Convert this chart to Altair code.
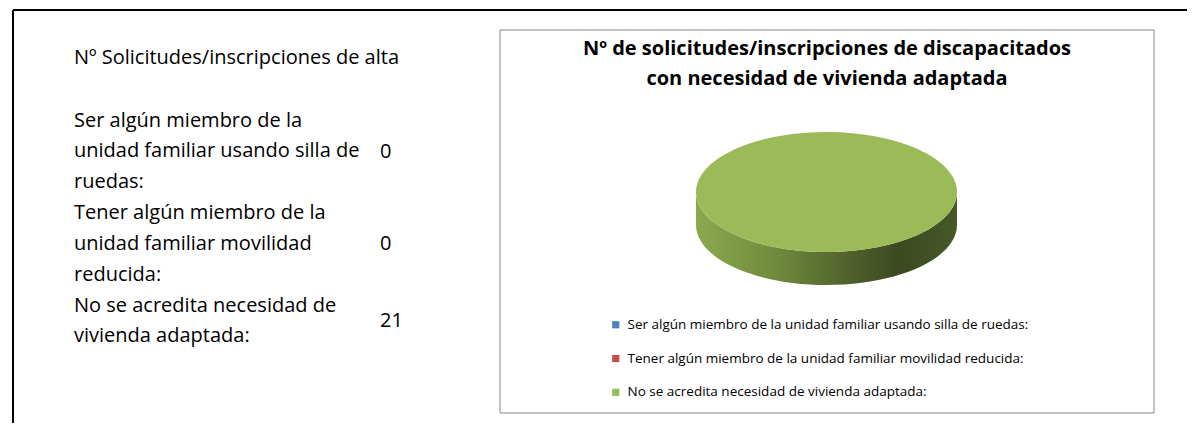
import math
import altair as alt

# ---------------- data ----------------
categories = [
    "Ser algún miembro de la unidad familiar usando silla de ruedas:",
    "Tener algún miembro de la unidad familiar movilidad reducida:",
    "No se acredita necesidad de vivienda adaptada:",
]
values = [0, 0, 21]
colors = ["#4F81BD", "#C0504D", "#9BBB59"]
table_header = "Nº Solicitudes/inscripciones de alta"
table_labels = [
    ["Ser algún miembro de la", "unidad familiar usando silla de", "ruedas:"],
    ["Tener algún miembro de la", "unidad familiar movilidad", "reducida:"],
    ["No se acredita necesidad de", "vivienda adaptada:"],
]
chart_title = [
    "Nº de solicitudes/inscripciones de discapacitados",
    "con necesidad de vivienda adaptada",
]

# ---------------- layout / style ----------------
FONT = "Open Sans"
W, H = 1179, 415
OFF = 8  # page margin
RX, RY, DEPTH = 130.5, 60.0, 33.0
E = RY / RX
D = DEPTH / RX
PIE_X, PIE_Y = 826.5 - OFF, 192.0 - OFF
SYM_SIZE = (2 * RX) ** 2

side_grad = {
    "gradient": "linear", "x1": 0, "x2": 1, "y1": 0, "y2": 0,
    "stops": [
        {"offset": 0.0, "color": "#8BAA4F"},
        {"offset": 0.3, "color": "#708B3D"},
        {"offset": 0.58, "color": "#51622C"},
        {"offset": 0.78, "color": "#3C4921"},
        {"offset": 1.0, "color": "#485829"},
    ],
}


def arc_cmds(a0, a1, dy=0.0):
    span = a1 - a0
    n = max(1, math.ceil(abs(span) / 90 - 1e-9))
    step = span / n
    out = []
    for i in range(n):
        b0 = math.radians(a0 + i * step)
        b1 = math.radians(a0 + (i + 1) * step)
        k = 4.0 / 3.0 * math.tan((b1 - b0) / 4)
        p0 = (math.sin(b0), -math.cos(b0))
        p1 = (math.sin(b1), -math.cos(b1))
        d0 = (math.cos(b0), math.sin(b0))
        d1 = (math.cos(b1), math.sin(b1))
        c1 = (p0[0] + k * d0[0], p0[1] + k * d0[1])
        c2 = (p1[0] - k * d1[0], p1[1] - k * d1[1])
        out.append("C %.4f %.4f %.4f %.4f %.4f %.4f" % (
            c1[0], c1[1] * E + dy, c2[0], c2[1] * E + dy, p1[0], p1[1] * E + dy))
    return out


def pt(a, dy=0.0):
    t = math.radians(a)
    return "%.4f %.4f" % (math.sin(t), -math.cos(t) * E + dy)


total = float(sum(values))
top_rows, side_rows = [], []
start = 0.0
for cat, val, col in zip(categories, values, colors):
    span = 360.0 * val / total
    a0, a1 = start, start + span
    start = a1
    if val <= 0:
        continue
    if span >= 359.999:
        path = "M " + pt(a0) + " " + " ".join(arc_cmds(a0, a1)) + " Z"
    else:
        path = "M 0 0 L " + pt(a0) + " " + " ".join(arc_cmds(a0, a1)) + " Z"
    top_rows.append({"category": cat, "value": val, "path": path})
    s0, s1 = max(a0, 90.0), min(a1, 270.0)
    if s1 > s0:
        spath = ("M " + pt(s0) + " " + " ".join(arc_cmds(s0, s1)) +
                 " L " + pt(s1, D) + " " + " ".join(arc_cmds(s1, s0, D)) + " Z")
        side_rows.append({"category": cat, "value": val, "path": spath})

one = alt.Data(values=[{"k": 0}])

# frame of the sheet
frame_top = alt.Chart(one).mark_rule(color="#000000", strokeWidth=2).encode(
    x=alt.value(13 - OFF), x2=alt.value(W), y=alt.value(10 - OFF))
frame_left = alt.Chart(one).mark_rule(color="#000000", strokeWidth=2).encode(
    x=alt.value(13 - OFF), y=alt.value(10 - OFF), y2=alt.value(H))

# chart area box
box = alt.Chart(one).mark_rect(fill="#FFFFFF", stroke="#868686", strokeWidth=1).encode(
    x=alt.value(500 - OFF), x2=alt.value(1154 - OFF),
    y=alt.value(30 - OFF), y2=alt.value(413 - OFF))

title = alt.Chart(alt.Data(values=[{"t": "\n".join(chart_title)}])).mark_text(
    font=FONT, fontSize=20, fontWeight="bold", color="#000000",
    align="center", baseline="alphabetic", lineBreak="\n", lineHeight=29.5,
).encode(text="t:N", x=alt.value(827 - OFF), y=alt.value(55 - OFF))

side = alt.Chart(alt.Data(values=side_rows)).mark_point(
    filled=True, opacity=1, strokeWidth=0, fill=side_grad
).encode(
    shape=alt.Shape("path:N", scale=None),
    size=alt.value(SYM_SIZE),
    x=alt.value(PIE_X), y=alt.value(PIE_Y),
)

top = alt.Chart(alt.Data(values=top_rows)).mark_point(
    filled=True, opacity=1, strokeWidth=0
).encode(
    shape=alt.Shape("path:N", scale=None),
    fill=alt.Fill("category:N",
                  scale=alt.Scale(domain=categories, range=colors),
                  legend=alt.Legend(
                      title=None, orient="none", legendX=601, legendY=310,
                      symbolType="square", symbolSize=52, symbolStrokeWidth=0,
                      symbolOpacity=1, labelFont=FONT, labelFontSize=13.5,
                      labelColor="#000000", labelLimit=700, rowPadding=18.8,
                      labelOffset=5, padding=0, direction="vertical")),
    size=alt.value(SYM_SIZE),
    x=alt.value(PIE_X), y=alt.value(PIE_Y),
)

# left table (spreadsheet cells)
TFS = 20
LH = 30.8
table_layers = [
    alt.Chart(alt.Data(values=[{"t": table_header}])).mark_text(
        font=FONT, fontSize=TFS, color="#000000", align="left", baseline="alphabetic"
    ).encode(text="t:N", x=alt.value(74 - OFF), y=alt.value(64 - OFF))
]
first_line = 126.7
for lines, val in zip(table_labels, values):
    n = len(lines)
    center = first_line + (n - 1) * LH / 2
    table_layers.append(
        alt.Chart(alt.Data(values=[{"t": "\n".join(lines)}])).mark_text(
            font=FONT, fontSize=TFS, color="#000000", align="left",
            baseline="alphabetic", lineBreak="\n", lineHeight=LH,
        ).encode(text="t:N", x=alt.value(74 - OFF), y=alt.value(first_line - OFF))
    )
    table_layers.append(
        alt.Chart(alt.Data(values=[{"v": val}])).mark_text(
            font=FONT, fontSize=TFS, color="#000000", align="left", baseline="alphabetic",
        ).encode(text="v:Q", x=alt.value(380 - OFF), y=alt.value(center - OFF))
    )
    first_line += n * LH

chart = alt.layer(
    frame_top, frame_left, box, title, side, top, *table_layers
).properties(
    width=W, height=H, padding=0,
    autosize=alt.AutoSizeParams(type="none"),
).configure_view(strokeWidth=0)

chart.save("out.html", embed_options={"renderer": "svg", "actions": False})
